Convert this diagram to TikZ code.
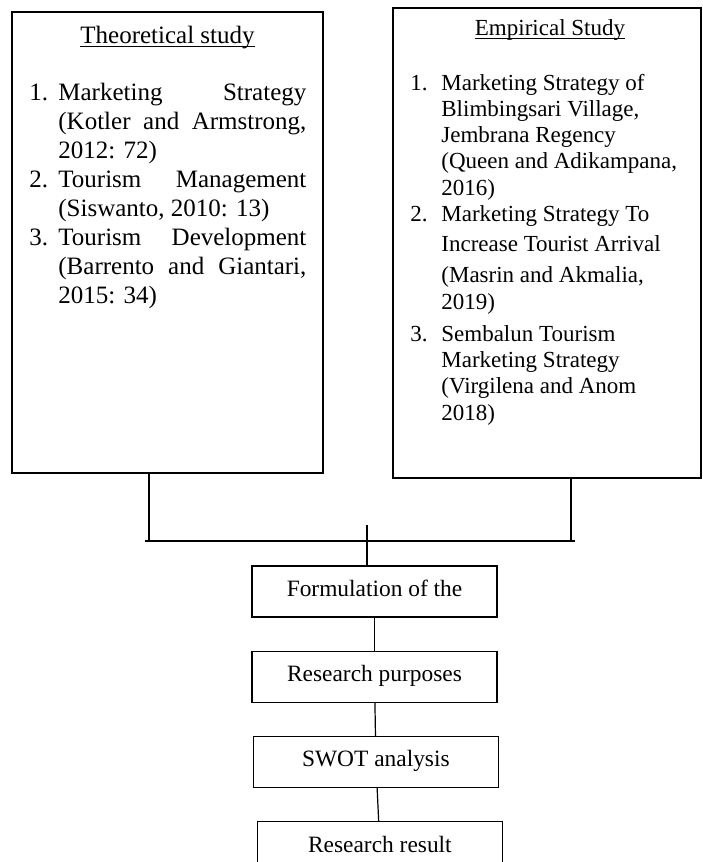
\documentclass[tikz,border=0pt]{standalone}
\usepackage{fontspec}
\setmainfont{Liberation Serif}
\usetikzlibrary{positioning}

\begin{document}
\begin{tikzpicture}[x=0.5pt,y=-0.5pt]
\tikzstyle{frame}=[rectangle, draw=black, line width=0.6pt, inner sep=0pt]
\tikzstyle{stage}=[rectangle, draw=black, line width=0.6pt, minimum width=122.5pt, minimum height=25.5pt, text height=8pt, text depth=3pt, font=\fontsize{11.7}{14}\selectfont, node distance=16.5pt]
\tikzstyle{head}=[anchor=base, inner sep=0pt]
\tikzstyle{list}=[anchor=base west, inner sep=0pt]
\tikzstyle{connect}=[line width=0.6pt]
  \clip (0,0) rectangle (702,862);
  % the two study boxes
  \node[frame, minimum width=155.5pt, minimum height=230.5pt] (theory) at (167.5,242.5) {};
  \node[frame, minimum width=154pt, minimum height=235pt] (empiric) at (547,243) {};
  \node[head, font=\fontsize{12.5}{14.5}\selectfont] (theoryhead) at (167.5,43) {Theoretical study};
  \node[head, font=\fontsize{11.5}{13.2}\selectfont] (empirichead) at (550,35) {Empirical Study};
  \draw[line width=0.5pt] ([yshift=-1.6pt]theoryhead.base west) -- ([yshift=-1.6pt]theoryhead.base east);
  \draw[line width=0.5pt] ([yshift=-1.6pt]empirichead.base west) -- ([yshift=-1.6pt]empirichead.base east);
  \node[list, font=\fontsize{12.5}{14.5}\selectfont] (theorylist) at (29,100) {%
    \begin{tabular}[t]{@{}p{14.5pt}@{}p{124pt}@{}}
    1. & Marketing Strategy\linebreak (Kotler and Armstrong,\linebreak 2012: 72)\\
    2. & Tourism Management\linebreak (Siswanto, 2010: 13)\\
    3. & Tourism Development\linebreak (Barrento and Giantari,\linebreak 2015: 34)
    \end{tabular}};
  \node[list, font=\fontsize{11.5}{13.15}\selectfont] (empiriclist) at (410,90) {%
    \begin{tabular}[t]{@{}p{15.5pt}@{}p{130pt}@{}}
    1. & Marketing Strategy of\newline Blimbingsari Village,\newline Jembrana Regency\newline (Queen and Adikampana,\newline 2016)\\
    2. & Marketing Strategy To\vspace{1.8pt}\newline Increase Tourist Arrival\vspace{2.5pt}\newline (Masrin and Akmalia,\newline 2019)\\[3pt]
    3. & Sembalun Tourism\newline Marketing Strategy\newline (Virgilena and Anom\newline 2018)
    \end{tabular}};
  % the chain below
  \node[stage] (formul) at (374.5,591.5) {Formulation of the};
  \node[stage] (purpose) [below=of formul] {Research purposes};
  \node[stage] (swot) [below=of purpose, xshift=0.7pt] {SWOT analysis};
  \node[stage] (result) [below=of swot, xshift=2pt] {Research result};
  % joining lines
  \coordinate (barL) at (145,541);
  \coordinate (barR) at (575,541);
  \coordinate (dropL) at (149,541);
  \coordinate (dropR) at (571,541);
  \coordinate (hubtop) at (367,525);
  \draw[connect] (barL) -- (barR);
  \draw[connect] (dropL |- theory.south) -- (dropL);
  \draw[connect] (dropR |- empiric.south) -- (dropR);
  \draw[connect] (hubtop) -- (hubtop |- formul.north);
  \path[connect] (formul) edge (purpose)
           (purpose) edge (swot)
           (swot) edge (result)
           ;
\end{tikzpicture}
\end{document}
